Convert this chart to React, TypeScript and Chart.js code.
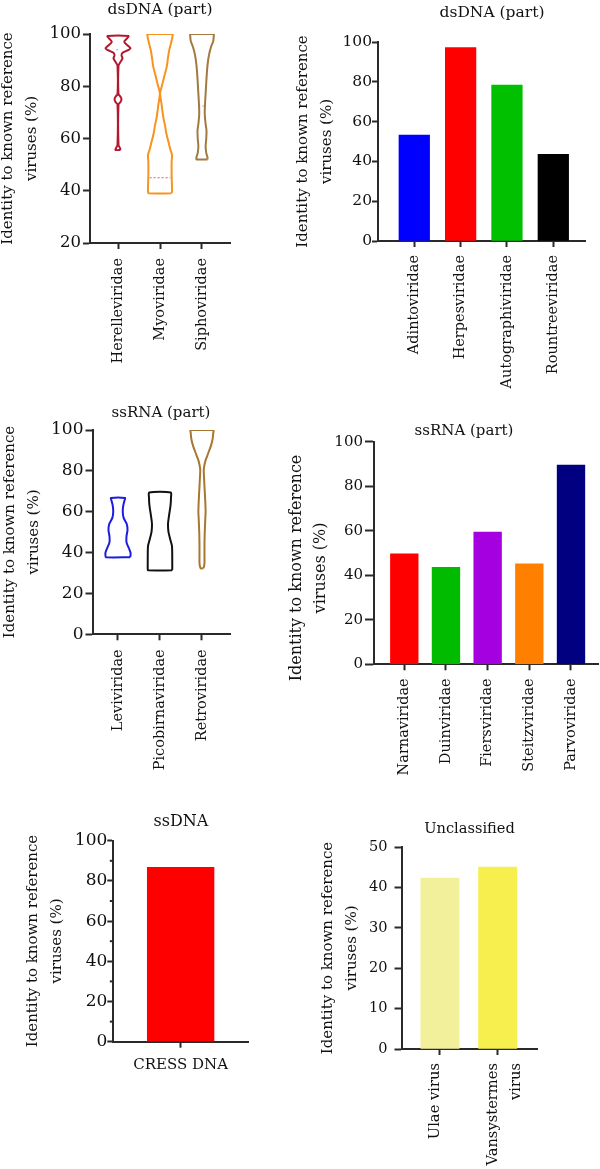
import React, { useEffect, useRef } from 'react';
import { Chart, registerables } from 'chart.js';

Chart.register(...registerables);

const FONT_FAMILY = "'DejaVu Serif', 'Liberation Serif', serif";
const AXIS_COLOR = '#2a2a2a';
const TEXT_COLOR = '#111111';
const Y_TITLE = ['Identity to known reference', 'viruses (%)'];

// ---------- dsDNA (part) — violins ----------
const dsdnaViolinCategories = ['Herelleviridae', 'Myoviridae', 'Siphoviridae'];
const dsdnaViolinColors = ['#B3192E', '#F7931E', '#A27A3F'];
const herelleLevels = [55.6, 56.3, 57.5, 73, 74, 75, 76, 77, 88, 89, 90.7, 91.8, 92.8, 93.8, 94.5, 95.5, 97, 98.3, 99.2];
const herelleDensity = [0.2, 0.16, 0.04, 0.04, 0.2, 0.28, 0.2, 0.04, 0.04, 0.16, 0.36, 0.28, 0.36, 0.8, 1.0, 0.8, 0.5, 0.72, 0.84];
const myoLevels = [39, 39.6, 41, 46, 51, 53.7, 55.6, 59, 62.1, 65, 68.3, 73, 77.3, 81, 84, 87.5, 91, 93.9, 97.7, 99.3, 100];
const myoDensity = [0.9, 0.96, 0.96, 0.93, 0.93, 0.96, 0.84, 0.66, 0.5, 0.4, 0.26, 0.13, 0.01, 0.2, 0.35, 0.54, 0.64, 0.74, 0.94, 1.0, 1.0];
const siphoLevels = [52, 52.8, 54.5, 57, 60, 63, 66, 69.5, 73, 78, 83, 88, 92, 95, 97.3, 99.3, 100];
const siphoDensity = [0.44, 0.44, 0.34, 0.29, 0.34, 0.36, 0.28, 0.22, 0.24, 0.3, 0.36, 0.44, 0.56, 0.72, 0.9, 0.94, 0.94];
const dsdnaMedians = [94, 45, 72.4];
const dsdnaMedianHalf = [0.15, 0.83, 0.3];
const dsdnaMedianColors = ['rgba(210,150,150,0.8)', 'rgba(240,105,105,0.95)', 'rgba(200,160,150,0.8)'];

// ---------- dsDNA (part) — bars ----------
const dsdnaBarCategories = ['Adintoviridae', 'Herpesviridae', 'Autographiviridae', 'Rountreeviridae'];
const dsdnaBarValues = [53.2, 97.2, 78.3, 43.5];
const dsdnaBarColors = ['#0000FF', '#FF0000', '#00C000', '#000000'];

// ---------- ssRNA (part) — violins ----------
const ssrnaViolinCategories = ['Leviviridae', 'Picobirnaviridae', 'Retroviridae'];
const ssrnaViolinColors = ['#1C1CE0', '#111111', '#A8772F'];
const leviLevels = [37.7, 38.5, 40, 42, 45, 48, 51, 54, 57, 60, 63, 65.5, 66.7];
const leviDensity = [0.96, 1.0, 1.0, 0.88, 0.68, 0.68, 0.76, 0.7, 0.45, 0.38, 0.42, 0.52, 0.56];
const picoLevels = [31.3, 32, 35, 43, 46, 50, 54, 58, 63, 67, 69.4];
const picoDensity = [0.96, 0.98, 0.98, 0.96, 0.84, 0.68, 0.64, 0.72, 0.84, 0.88, 0.86];
const retroLevels = [32.3, 33.2, 35, 38, 44, 50, 56, 60, 64, 70, 76, 80.5, 83, 85, 87, 89, 92, 95.2, 98.5, 100];
const retroDensity = [0.1, 0.16, 0.2, 0.2, 0.2, 0.22, 0.26, 0.29, 0.27, 0.22, 0.17, 0.14, 0.2, 0.28, 0.4, 0.52, 0.7, 0.84, 0.9, 0.9];

// ---------- ssRNA (part) — bars ----------
const ssrnaBarCategories = ['Narnaviridae', 'Duinviridae', 'Fiersviridae', 'Steitzviridae', 'Parvoviridae'];
const ssrnaBarValues = [49.6, 43.6, 59.4, 45.1, 89.5];
const ssrnaBarColors = ['#FF0000', '#00BB00', '#A400E0', '#FF8000', '#000080'];

// ---------- ssDNA ----------
const ssdnaCategories = ['CRESS DNA'];
const ssdnaValues = [86.7];
const ssdnaColors = ['#FF0000'];
const ssdnaMinorTicks = [10, 30, 50, 70, 90];

// ---------- Unclassified ----------
const unclassifiedCategories: (string | string[])[] = ['Ulae virus', ['Vansystermes', 'virus']];
const unclassifiedValues = [42.4, 45.1];
const unclassifiedColors = ['#F3F09B', '#F6EF4E'];

// ---------- helpers ----------
function violinOutline(center: number, levels: number[], density: number[], halfMax: number) {
  const right = levels.map((y, i) => ({ x: center + density[i] * halfMax, y }));
  const left = levels.map((y, i) => ({ x: center - density[i] * halfMax, y })).reverse();
  return [...right, ...left, right[0]];
}

function violinDataset(center: number, levels: number[], density: number[], color: string) {
  return {
    type: 'line',
    data: violinOutline(center, levels, density, 0.298),
    borderColor: color,
    borderWidth: 2,
    pointRadius: 0,
    fill: false,
    tension: 0.25,
  };
}

function medianDataset(center: number, value: number, half: number, color: string) {
  return {
    type: 'line',
    data: [
      { x: center - half * 0.298, y: value },
      { x: center + half * 0.298, y: value },
    ],
    borderColor: color,
    borderWidth: 1.2,
    borderDash: [2, 2],
    pointRadius: 0,
    fill: false,
  };
}

function barDataset(values: number[], colors: string[], thickness: number) {
  return {
    type: 'bar',
    data: values.map((v, i) => ({ x: i + 1, y: v })),
    backgroundColor: colors,
    borderWidth: 0,
    barThickness: thickness,
  };
}

type TextItem = { lines: string[]; x: number; y: number; size: number; lh: number; rotate: boolean };

function makeTextPlugin(items: TextItem[]) {
  return {
    id: 'panelText',
    afterDraw(chart: any) {
      const ctx = chart.ctx;
      items.forEach((it) => {
        ctx.save();
        ctx.font = `${it.size}px ${FONT_FAMILY}`;
        ctx.fillStyle = TEXT_COLOR;
        ctx.textAlign = 'center';
        ctx.textBaseline = 'middle';
        ctx.translate(it.x, it.y);
        if (it.rotate) ctx.rotate(-Math.PI / 2);
        it.lines.forEach((line, i) => ctx.fillText(line, 0, i * it.lh));
        ctx.restore();
      });
    },
  };
}

function makeMinorTickPlugin(values: number[], length: number) {
  return {
    id: 'minorTicks',
    afterDraw(chart: any) {
      if (!values.length) return;
      const ctx = chart.ctx;
      const ys = chart.scales.y;
      const left = chart.chartArea.left;
      ctx.save();
      ctx.strokeStyle = AXIS_COLOR;
      ctx.lineWidth = 2;
      values.forEach((v) => {
        const py = ys.getPixelForValue(v);
        ctx.beginPath();
        ctx.moveTo(left - length, py);
        ctx.lineTo(left, py);
        ctx.stroke();
      });
      ctx.restore();
    },
  };
}

type PanelSpec = {
  box: { left: number; top: number; w: number; h: number };
  area: { L: number; R: number; T: number; B: number };
  chartType: 'line' | 'bar';
  xMin: number;
  xMax: number;
  yMin: number;
  yMax: number;
  yStep: number;
  xLabels: (string | string[])[];
  xRot: number;
  xFont: number;
  xPad: number;
  xLabelOffset: number;
  yFont: number;
  yTickLen: number;
  yPad: number;
  title: { text: string; x: number; y: number; size: number };
  yTitle: { x: number; y: number; size: number; lh: number };
  datasets: any[];
  minorTicks: number[];
};

const panels: PanelSpec[] = [
  {
    box: { left: -10, top: 0, w: 300, h: 375 },
    area: { L: 90, R: 230, T: 34, B: 243 },
    chartType: 'line',
    xMin: 0.333, xMax: 3.667, yMin: 20, yMax: 100, yStep: 20,
    xLabels: dsdnaViolinCategories, xRot: 90, xFont: 14.5, xPad: 9, xLabelOffset: 0,
    yFont: 16.5, yTickLen: 7, yPad: 2,
    title: { text: 'dsDNA (part)', x: 160, y: 10, size: 15.5 },
    yTitle: { x: 8, y: 138.5, size: 15, lh: 24 },
    datasets: [
      violinDataset(1, herelleLevels, herelleDensity, dsdnaViolinColors[0]),
      violinDataset(2, myoLevels, myoDensity, dsdnaViolinColors[1]),
      violinDataset(3, siphoLevels, siphoDensity, dsdnaViolinColors[2]),
      ...dsdnaMedians.map((m, i) => medianDataset(i + 1, m, dsdnaMedianHalf[i], dsdnaMedianColors[i])),
    ],
    minorTicks: [],
  },
  {
    box: { left: 285, top: 0, w: 315, h: 405 },
    area: { L: 378, R: 585, T: 42, B: 241 },
    chartType: 'bar',
    xMin: 0.217, xMax: 4.684, yMin: 0, yMax: 100, yStep: 20,
    xLabels: dsdnaBarCategories, xRot: 90, xFont: 14.5, xPad: 8, xLabelOffset: 0,
    yFont: 15.5, yTickLen: 6, yPad: 0,
    title: { text: 'dsDNA (part)', x: 492, y: 12.5, size: 15.5 },
    yTitle: { x: 303, y: 141.5, size: 15, lh: 24 },
    datasets: [barDataset(dsdnaBarValues, dsdnaBarColors, 30.6)],
    minorTicks: [],
  },
  {
    box: { left: -10, top: 380, w: 300, h: 400 },
    area: { L: 92.5, R: 230, T: 430, B: 634.3 },
    chartType: 'line',
    xMin: 0.393, xMax: 3.667, yMin: 0, yMax: 100, yStep: 20,
    xLabels: ssrnaViolinCategories, xRot: 90, xFont: 14.5, xPad: 9, xLabelOffset: 0,
    yFont: 17, yTickLen: 7, yPad: 2,
    title: { text: 'ssRNA (part)', x: 161, y: 413, size: 15 },
    yTitle: { x: 10, y: 532, size: 15, lh: 24 },
    datasets: [
      violinDataset(1, leviLevels, leviDensity, ssrnaViolinColors[0]),
      violinDataset(2, picoLevels, picoDensity, ssrnaViolinColors[1]),
      violinDataset(3, retroLevels, retroDensity, ssrnaViolinColors[2]),
    ],
    minorTicks: [],
  },
  {
    box: { left: 278, top: 380, w: 322, h: 420 },
    area: { L: 374, R: 598, T: 441.7, B: 664.3 },
    chartType: 'bar',
    xMin: 0.273, xMax: 5.648, yMin: 0, yMax: 100, yStep: 20,
    xLabels: ssrnaBarCategories, xRot: 90, xFont: 14.5, xPad: 8, xLabelOffset: 0,
    yFont: 15, yTickLen: 9, yPad: 2,
    title: { text: 'ssRNA (part)', x: 464, y: 431.5, size: 15 },
    yTitle: { x: 297, y: 568, size: 16, lh: 24 },
    datasets: [barDataset(ssrnaBarValues, ssrnaBarColors, 27.7)],
    minorTicks: [],
  },
  {
    box: { left: -10, top: 790, w: 300, h: 300 },
    area: { L: 113.3, R: 248, T: 840.7, B: 1041.7 },
    chartType: 'bar',
    xMin: 0, xMax: 2, yMin: 0, yMax: 100, yStep: 20,
    xLabels: ssdnaCategories, xRot: 0, xFont: 15, xPad: 5, xLabelOffset: 0,
    yFont: 17, yTickLen: 6, yPad: 0,
    title: { text: 'ssDNA', x: 181, y: 821.5, size: 16 },
    yTitle: { x: 33, y: 941, size: 15, lh: 24 },
    datasets: [barDataset(ssdnaValues, ssdnaColors, 66.7)],
    minorTicks: ssdnaMinorTicks,
  },
  {
    box: { left: 290, top: 790, w: 310, h: 379 },
    area: { L: 401.5, R: 537, T: 847.3, B: 1049 },
    chartType: 'bar',
    xMin: 0.333, xMax: 2.681, yMin: 0, yMax: 50, yStep: 10,
    xLabels: unclassifiedCategories, xRot: 90, xFont: 14.7, xPad: 8, xLabelOffset: -5,
    yFont: 14.5, yTickLen: 7, yPad: 7,
    title: { text: 'Unclassified', x: 469.5, y: 829, size: 14.6 },
    yTitle: { x: 328, y: 948, size: 15, lh: 24 },
    datasets: [barDataset(unclassifiedValues, unclassifiedColors, 38.3)],
    minorTicks: [],
  },
];

function buildConfig(p: PanelSpec): any {
  const { box, area } = p;
  const padTop = area.T - box.top;
  const padRight = box.left + box.w - area.R;
  const yWidth = area.L - box.left;
  const xHeight = box.top + box.h - area.B;

  const texts: TextItem[] = [
    { lines: [p.title.text], x: p.title.x - box.left, y: p.title.y - box.top, size: p.title.size, lh: 20, rotate: false },
    { lines: Y_TITLE, x: p.yTitle.x - box.left, y: p.yTitle.y - box.top, size: p.yTitle.size, lh: p.yTitle.lh, rotate: true },
  ];

  return {
    type: p.chartType,
    data: { datasets: p.datasets },
    plugins: [makeTextPlugin(texts), makeMinorTickPlugin(p.minorTicks, 3.5)],
    options: {
      responsive: false,
      maintainAspectRatio: false,
      animation: false,
      events: [],
      layout: { padding: { left: 0, top: padTop, right: padRight, bottom: 0 } },
      plugins: {
        legend: { display: false },
        tooltip: { enabled: false },
        title: { display: false },
      },
      scales: {
        x: {
          type: 'linear',
          min: p.xMin,
          max: p.xMax,
          offset: false,
          afterBuildTicks: (s: any) => {
            s.ticks = p.xLabels.map((_, i) => ({ value: i + 1 }));
          },
          afterFit: (s: any) => {
            s.height = xHeight;
            s.paddingLeft = 0;
            s.paddingRight = 0;
          },
          ticks: {
            autoSkip: false,
            minRotation: p.xRot,
            maxRotation: p.xRot,
            padding: p.xPad,
            labelOffset: p.xLabelOffset,
            color: TEXT_COLOR,
            font: { family: FONT_FAMILY, size: p.xFont, lineHeight: 1.6 },
            callback: (_v: any, i: number) => p.xLabels[i],
          },
          grid: {
            display: true,
            offset: false,
            drawOnChartArea: false,
            drawTicks: true,
            tickLength: 6,
            tickWidth: 2,
            tickColor: AXIS_COLOR,
          },
          border: { display: true, color: AXIS_COLOR, width: 2 },
        },
        y: {
          type: 'linear',
          min: p.yMin,
          max: p.yMax,
          afterFit: (s: any) => {
            s.width = yWidth;
            s.paddingTop = 0;
            s.paddingBottom = 0;
          },
          ticks: {
            stepSize: p.yStep,
            padding: p.yPad,
            color: TEXT_COLOR,
            font: { family: FONT_FAMILY, size: p.yFont },
          },
          grid: {
            display: true,
            drawOnChartArea: false,
            drawTicks: true,
            tickLength: p.yTickLen,
            tickWidth: 2,
            tickColor: AXIS_COLOR,
          },
          border: { display: true, color: AXIS_COLOR, width: 2 },
        },
      },
    },
  };
}

function PanelChart({ panel }: { panel: PanelSpec }) {
  const ref = useRef<HTMLCanvasElement>(null);
  useEffect(() => {
    if (!ref.current) return;
    const chart = new Chart(ref.current, buildConfig(panel));
    return () => chart.destroy();
  }, [panel]);
  const { box } = panel;
  return (
    <canvas
      ref={ref}
      width={box.w}
      height={box.h}
      style={{ position: 'absolute', left: box.left, top: box.top }}
    />
  );
}

export default function App() {
  return (
    <div
      style={{
        position: 'absolute',
        left: 0,
        top: 0,
        width: 600,
        height: 1169,
        overflow: 'hidden',
        background: '#ffffff',
      }}
    >
      {panels.map((p, i) => (
        <PanelChart key={i} panel={p} />
      ))}
    </div>
  );
}
